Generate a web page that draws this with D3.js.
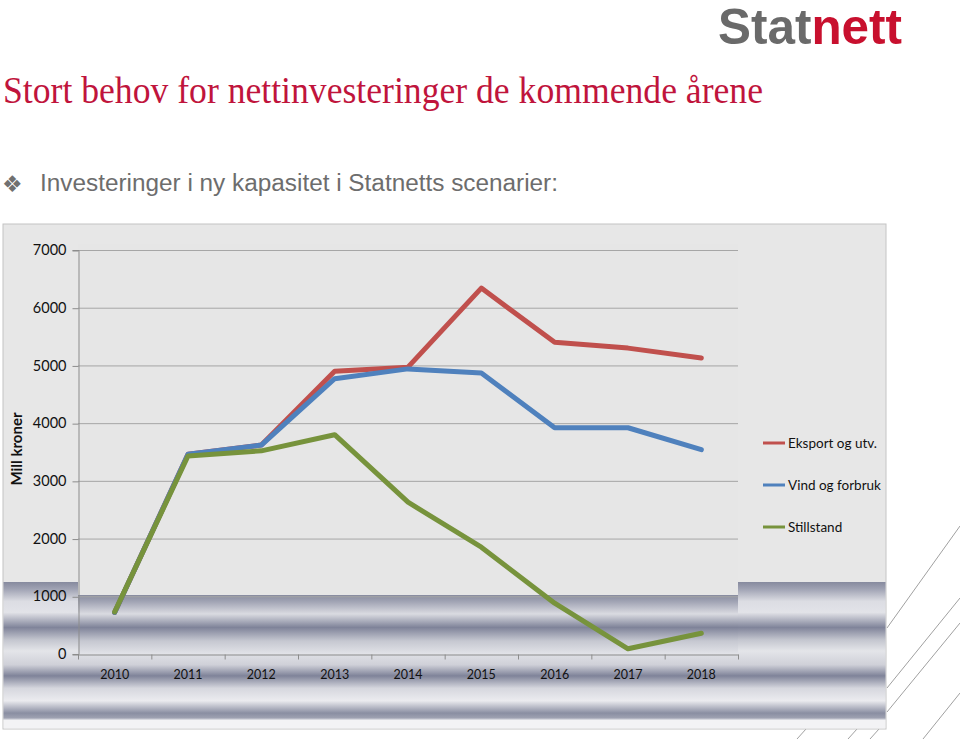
<!DOCTYPE html>
<html>
<head>
<meta charset="utf-8">
<script src="https://cdn.jsdelivr.net/npm/d3@7"></script>
<style>
  body { margin: 0; background: #fff; }
  svg { display: block; }
</style>
</head>
<body>
<div id="chart"></div>
<script>
const years = ['2010', '2011', '2012', '2013', '2014', '2015', '2016', '2017', '2018'];
const eksport = [720, 3460, 3620, 4900, 4970, 6340, 5400, 5300, 5130];
const vind = [720, 3460, 3620, 4770, 4940, 4870, 3920, 3920, 3540];
const stillstand = [730, 3430, 3520, 3800, 2630, 1850, 880, 90, 360];
const yTicks = [0, 1000, 2000, 3000, 4000, 5000, 6000, 7000];
const seriesNames = ['Eksport og utv.', 'Vind og forbruk', 'Stillstand'];
const seriesColors = ['#c0504d', '#4f81bd', '#77933c'];

function drawChart() {
  const width = 960, height = 739;
  const plot = { left: 78, right: 738, top: 250, bottom: 654 };

  const svg = d3.select('#chart').append('svg')
    .attr('width', width)
    .attr('height', height);

  const defs = svg.append('defs');

  // metallic stripes of the slide background showing through
  const outerStops = [
    [0, '#868a9e'], [0.05, '#9fa2b3'], [0.14, '#dcdde3'], [0.22, '#e2e3e8'],
    [0.33, '#80849a'], [0.42, '#c4c6cf'], [0.5, '#e4e5e9'], [0.6, '#cfd0d8'],
    [0.68, '#7f8399'], [0.77, '#d6d7de'], [0.86, '#ebebef'], [0.95, '#8a8ea2'],
    [0.985, '#9ea1b1'], [1, '#e8e8ec']
  ];
  const innerStops = [
    [0, '#878b9f'], [0.12, '#a3a6b6'], [0.32, '#dadbe1'], [0.55, '#7f8399'],
    [0.78, '#c6c8d1'], [1, '#e2e3e8']
  ];
  [['metalOuter', outerStops], ['metalInner', innerStops]].forEach(([id, stops]) => {
    const g = defs.append('linearGradient')
      .attr('id', id)
      .attr('x1', 0).attr('y1', 0).attr('x2', 0).attr('y2', 1);
    g.selectAll('stop').data(stops).enter().append('stop')
      .attr('offset', d => d[0])
      .attr('stop-color', d => d[1]);
  });

  // decorative diagonal lines bottom right
  const diag = [
    [887, 628, 960, 526], [887, 688, 960, 598], [887, 712, 960, 623],
    [923, 739, 960, 693], [797, 739, 806, 729], [848, 739, 857, 729], [870, 739, 879, 729]
  ];
  svg.selectAll('.diag').data(diag).enter().append('line')
    .attr('x1', d => d[0]).attr('y1', d => d[1])
    .attr('x2', d => d[2]).attr('y2', d => d[3])
    .style('stroke', '#a0a0a0')
    .style('stroke-width', 1);

  // logo
  const logo = svg.append('text')
    .attr('x', 718).attr('y', 44)
    .attr('textLength', 184)
    .attr('lengthAdjust', 'spacingAndGlyphs')
    .style('font-family', 'Liberation Sans, Arial, sans-serif')
    .style('font-weight', 'bold')
    .style('font-size', '50px');
  logo.append('tspan').text('Stat').style('fill', '#6a6a6a');
  logo.append('tspan').text('nett').style('fill', '#c8102e');

  // title
  svg.append('text')
    .attr('x', 3).attr('y', 103)
    .attr('textLength', 760)
    .attr('lengthAdjust', 'spacingAndGlyphs')
    .style('font-family', 'Liberation Serif, Times New Roman, serif')
    .style('font-size', '37px')
    .style('fill', '#c0143c')
    .text('Stort behov for nettinvesteringer de kommende årene');

  // subtitle with bullet
  svg.append('text')
    .attr('x', 2).attr('y', 192)
    .style('font-family', 'DejaVu Sans, sans-serif')
    .style('font-size', '23px')
    .style('fill', '#707070')
    .text('❖');
  svg.append('text')
    .attr('x', 40).attr('y', 191)
    .attr('textLength', 518)
    .attr('lengthAdjust', 'spacingAndGlyphs')
    .style('font-family', 'Liberation Sans, Arial, sans-serif')
    .style('font-size', '23px')
    .style('fill', '#6d6d6d')
    .text('Investeringer i ny kapasitet i Statnetts scenarier:');

  // chart box
  svg.append('rect')
    .attr('x', 3).attr('y', 224).attr('width', 883).attr('height', 505)
    .style('fill', '#e7e7e7')
    .style('stroke', '#c4c4c4');
  svg.append('rect')
    .attr('x', 3.5).attr('y', 582).attr('width', 882).attr('height', 138)
    .style('fill', 'url(#metalOuter)');
  svg.append('rect')
    .attr('x', 3.5).attr('y', 720).attr('width', 882).attr('height', 8.5)
    .style('fill', '#f3f3f5');

  // plot area
  svg.append('rect')
    .attr('x', plot.left).attr('y', 244)
    .attr('width', plot.right - plot.left).attr('height', plot.bottom - 244)
    .style('fill', '#e6e6e6');
  svg.append('rect')
    .attr('x', plot.left).attr('y', 595)
    .attr('width', plot.right - plot.left).attr('height', plot.bottom - 595)
    .style('fill', 'url(#metalInner)');

  const x = d3.scaleBand()
    .domain(years)
    .range([plot.left, plot.right]);

  const y = d3.scaleLinear()
    .domain([0, 7000])
    .range([plot.bottom, plot.top]);

  // gridlines
  svg.selectAll('.grid').data(yTicks.slice(1)).enter().append('line')
    .attr('x1', plot.left).attr('x2', plot.right)
    .attr('y1', d => y(d) + 0.5).attr('y2', d => y(d) + 0.5)
    .style('stroke', '#a6a6a6')
    .style('stroke-width', 1);

  const tickFont = 'Lato, Open Sans, sans-serif';

  // y axis
  const yAxis = svg.append('g')
    .attr('transform', `translate(${plot.left + 0.5},0)`)
    .call(d3.axisLeft(y).tickValues(yTicks).tickSize(6).tickPadding(6).tickFormat(d3.format('d')));
  yAxis.select('.domain').style('stroke', '#8c8c8c');
  yAxis.selectAll('.tick line').style('stroke', '#8c8c8c').attr('transform', 'translate(0,0.5)');
  yAxis.selectAll('.tick text')
    .style('font-family', tickFont)
    .style('font-size', '14.5px')
    .style('fill', '#111');

  // x axis
  const xAxis = svg.append('g')
    .attr('transform', `translate(0,${plot.bottom + 0.5})`)
    .call(d3.axisBottom(x).tickSize(0).tickPadding(16));
  xAxis.select('.domain').style('stroke', '#8c8c8c');
  xAxis.selectAll('.tick text')
    .style('font-family', tickFont)
    .style('font-size', '12.5px')
    .style('fill', '#111');
  xAxis.selectAll('.bound').data(years.concat(['end'])).enter().append('line')
    .attr('x1', (d, i) => plot.left + i * x.bandwidth() + 0.5)
    .attr('x2', (d, i) => plot.left + i * x.bandwidth() + 0.5)
    .attr('y1', 0).attr('y2', 5)
    .style('stroke', '#8c8c8c');

  // y label
  svg.append('text')
    .attr('transform', 'translate(22,449) rotate(-90)')
    .attr('text-anchor', 'middle')
    .style('font-family', tickFont)
    .style('font-weight', 'bold')
    .style('font-size', '15px')
    .style('fill', '#111')
    .text('Mill kroner');

  // lines
  const line = d3.line()
    .x((d, i) => x(years[i]) + x.bandwidth() / 2)
    .y(d => y(d));

  const seriesData = [eksport, vind, stillstand];
  svg.selectAll('.series').data(seriesData).enter().append('path')
    .attr('d', d => line(d))
    .style('fill', 'none')
    .style('stroke', (d, i) => seriesColors[i])
    .style('stroke-width', 5)
    .style('stroke-linejoin', 'round')
    .style('stroke-linecap', 'round');

  // legend
  const legend = svg.selectAll('.legend').data(seriesNames).enter().append('g')
    .attr('transform', (d, i) => `translate(763,${443 + i * 42})`);
  legend.append('line')
    .attr('x1', 0).attr('x2', 22)
    .style('stroke', (d, i) => seriesColors[i])
    .style('stroke-width', 3);
  legend.append('text')
    .attr('x', 25).attr('y', 5)
    .style('font-family', tickFont)
    .style('font-size', '13.5px')
    .style('fill', '#111')
    .text(d => d);
}

window.onload = function () {
  drawChart();
};
</script>
</body>
</html>
